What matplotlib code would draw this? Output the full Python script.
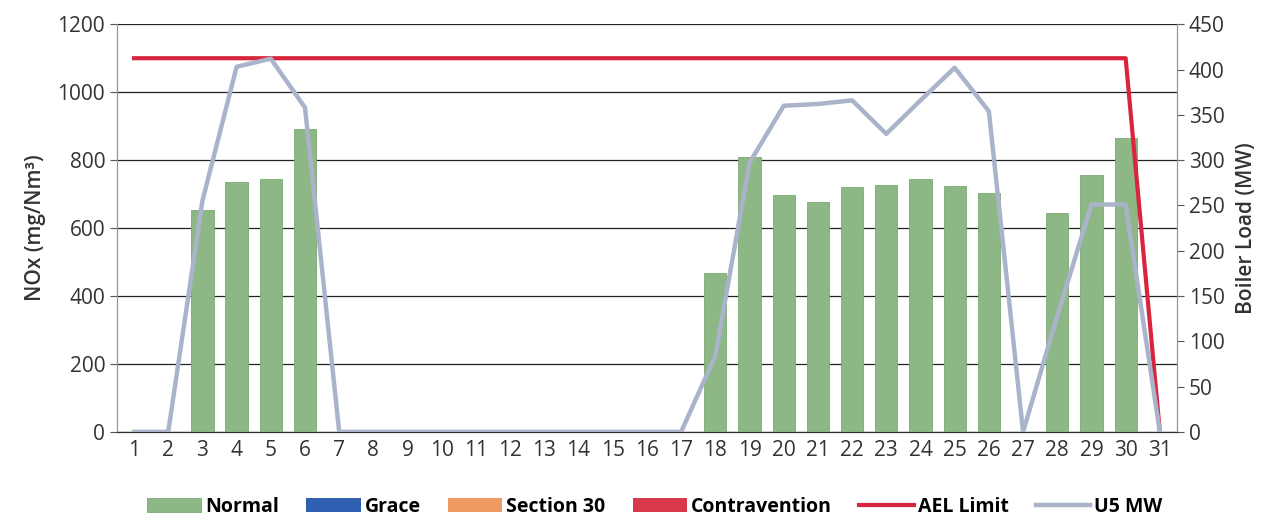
import matplotlib.pyplot as plt
import numpy as np

plt.rcParams['font.family'] = ['Open Sans', 'DejaVu Sans']

# Daily data
days = list(range(1, 32))
normal = [0, 0, 654, 735, 745, 893, 0, 0, 0, 0, 0, 0, 0, 0, 0, 0, 0,
          468, 808, 698, 676, 720, 727, 744, 725, 704, 0, 644, 756, 866, 0]
grace = [0] * 31
section30 = [0] * 31
contravention = [0] * 31
ael_limit = [1100, 1100, 1100, 1100, 1100, 1100, 1100, 1100, 1100, 1100,
             1100, 1100, 1100, 1100, 1100, 1100, 1100, 1100, 1100, 1100,
             1100, 1100, 1100, 1100, 1100, 1100, 1100, 1100, 1100, 1100, 0]
u5_mw = [0, 0, 255, 403, 412, 358, 0, 0, 0, 0, 0, 0, 0, 0, 0, 0, 0,
         84, 297, 360, 362, 366, 329, 366, 402, 354, 0, 128, 251, 251, 0]

fig = plt.figure(figsize=(12.71, 5.16), dpi=100)
ax = fig.add_axes([0.092, 0.163, 0.834, 0.79])
ax2 = ax.twinx()

w = 0.65
b1 = ax.bar(days, normal, w, color='#8db886', edgecolor='#7aa873', linewidth=0.6, zorder=3, label='Normal')
b2 = ax.bar(days, grace, w, color='#2e5fb0', linewidth=0, zorder=3, label='Grace')
b3 = ax.bar(days, section30, w, color='#ee9a62', linewidth=0, zorder=3, label='Section 30')
b4 = ax.bar(days, contravention, w, color='#d9384a', linewidth=0, zorder=3, label='Contravention')
l1, = ax.plot(days, ael_limit, color='#d8253e', lw=3, zorder=4, label='AEL Limit')

l2, = ax2.plot(days, u5_mw, color='#a9b3c9', lw=3.2, zorder=3, label='U5 MW')

ax.set_xlim(0.5, 31.5)
ax.set_ylim(0, 1200)
ax.set_yticks(range(0, 1201, 200))
ax2.set_ylim(0, 450)
ax2.set_yticks(range(0, 451, 50))
ax.set_xticks(days)

ax.yaxis.grid(True, color='#222222', lw=0.9, zorder=0)
ax.set_axisbelow(True)

for a in (ax, ax2):
    a.spines['top'].set_visible(False)
    a.spines['left'].set_color('#7f9bb0')
    a.spines['right'].set_color('#7f9bb0')
    a.spines['bottom'].set_color('#333333')

fs = 15
ax.tick_params(axis='y', labelsize=fs, colors='#333333', length=5, color='#555555')
ax2.tick_params(axis='y', labelsize=fs, colors='#333333', length=5, color='#555555')
ax.tick_params(axis='x', labelsize=fs, colors='#333333', length=0, pad=6)

ax.set_ylabel('NOx (mg/Nm³)', fontsize=fs, color='#333333', fontweight='semibold', labelpad=8)
ax2.set_ylabel('Boiler Load (MW)', fontsize=fs, color='#333333', fontweight='semibold', labelpad=8)

handles = [b1, b2, b3, b4, l1, l2]
labels = [h.get_label() for h in handles]
fig.legend(handles, labels, loc='lower center', bbox_to_anchor=(0.515, -0.035), ncol=6,
           frameon=False, handlelength=2.8, handleheight=0.7,
           columnspacing=1.4, handletextpad=0.2, prop={'weight': 'bold', 'size': 14})

plt.savefig('out.png', dpi=100)
